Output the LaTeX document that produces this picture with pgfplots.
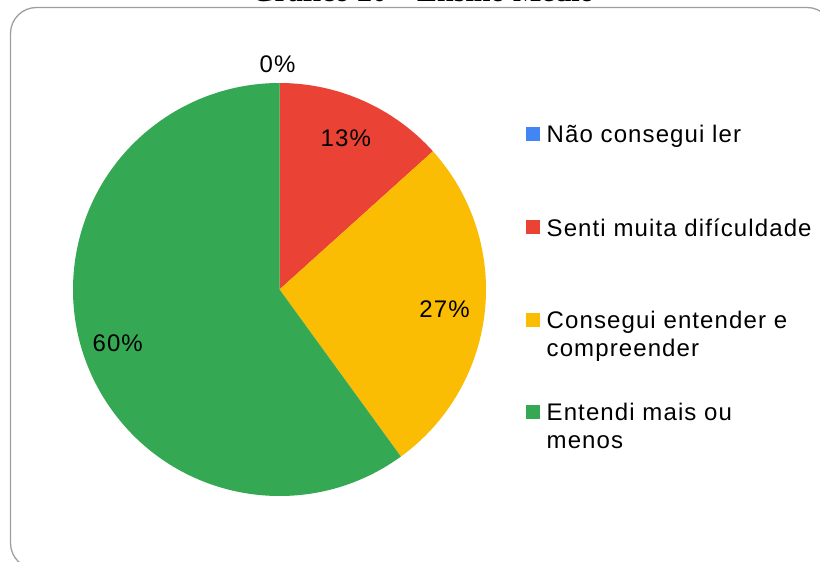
\documentclass[border=0pt]{standalone}
\usepackage{pgfplots}
\pgfplotsset{compat=1.18}
\usepackage{pgfplotstable}
\usepackage{fontspec}
\setmainfont{Liberation Sans}
\newfontfamily\spaced{Liberation Sans}[LetterSpace=4.6]
\newfontfamily\titlefont{Liberation Serif}
\definecolor{cblue}{HTML}{4285F4}
\definecolor{cred}{HTML}{EA4335}
\definecolor{cyellow}{HTML}{FBBC04}
\definecolor{cgreen}{HTML}{34A853}
\colorlet{slice0}{cblue}
\colorlet{slice1}{cred}
\colorlet{slice2}{cyellow}
\colorlet{slice3}{cgreen}

% share of each answer (percent)
\pgfplotstableread[col sep=comma]{
value,pct
0,0
13.33,13
26.67,27
60,60
}\piedata

\begin{document}
\begin{tikzpicture}
\def\curang{90}%
\pgfplotsforeachungrouped \i in {0,1,2,3}{%
  \pgfplotstablegetelem{\i}{value}\of\piedata
  \pgfmathsetmacro\endang{\curang-3.6*\pgfplotsretval}%
  \pgfmathsetmacro\midang{(\curang+\endang)/2}%
  \pgfmathsetmacro\labr{\pgfplotsretval>0.5 ? 168 : 227}%
  \pgfplotstablegetelem{\i}{pct}\of\piedata
  \expandafter\xdef\csname sA\i\endcsname{\curang}%
  \expandafter\xdef\csname sB\i\endcsname{\endang}%
  \expandafter\xdef\csname sM\i\endcsname{\midang}%
  \expandafter\xdef\csname sR\i\endcsname{\labr}%
  \expandafter\xdef\csname sP\i\endcsname{\pgfplotsretval}%
  \xdef\curang{\endang}%
}%
\begin{axis}[hide axis, scale only axis, width=820pt, height=562pt,
  xmin=0, xmax=820, ymin=0, ymax=562, clip=true]
  \path (axis cs:0,0) rectangle (axis cs:820,562);
  % frame
  \draw[black!38, line width=1.3pt, rounded corners=26pt] (axis cs:10.5,-7) rectangle (axis cs:833,554.5);
  % title (cut off at the top, as in the source)
  \node[font=\titlefont\bfseries\fontsize{30}{34}\selectfont, anchor=base, inner sep=0pt] at (axis cs:423,560.5) {Gráfico 20 – Ensino Médio};
  % slices
  \pgfplotsinvokeforeach{0,1,2,3}{%
    \fill[slice#1] (axis cs:279.5,272.5) -- ++(\csname sA#1\endcsname:206.5pt)
      arc[start angle=\csname sA#1\endcsname, end angle=\csname sB#1\endcsname, radius=206.5pt] -- cycle;
  }
  \pgfplotsinvokeforeach{0,1,2,3}{%
    \node[font=\spaced\fontsize{24}{28}\selectfont, inner sep=0pt] at (axis cs:277.5,270.5)
      [shift={(\csname sM#1\endcsname:\csname sR#1\endcsname pt)}] {\csname sP#1\endcsname\%};
  }
  % legend keys
  \addplot[only marks, mark=square*, mark size=6.5pt, color=cblue] coordinates {(533,428)};
  \addplot[only marks, mark=square*, mark size=6.5pt, color=cred] coordinates {(533,335)};
  \addplot[only marks, mark=square*, mark size=6.5pt, color=cyellow] coordinates {(533,242.5)};
  \addplot[only marks, mark=square*, mark size=6.5pt, color=cgreen] coordinates {(533,150)};
  % legend texts
  \begin{scope}[every node/.style={font=\spaced\fontsize{24}{28}\selectfont, anchor=base west, inner sep=0pt}]
    \node at (axis cs:546.5,419.5) {Não consegui ler};
    \node at (axis cs:546.5,325.5) {Senti muita difículdade};
    \node at (axis cs:546.5,233.5) {Consegui entender e};
    \node at (axis cs:546.5,205.5) {compreender};
    \node at (axis cs:546.5,141.5) {Entendi mais ou};
    \node at (axis cs:546.5,113.5) {menos};
  \end{scope}
\end{axis}
\end{tikzpicture}
\end{document}
